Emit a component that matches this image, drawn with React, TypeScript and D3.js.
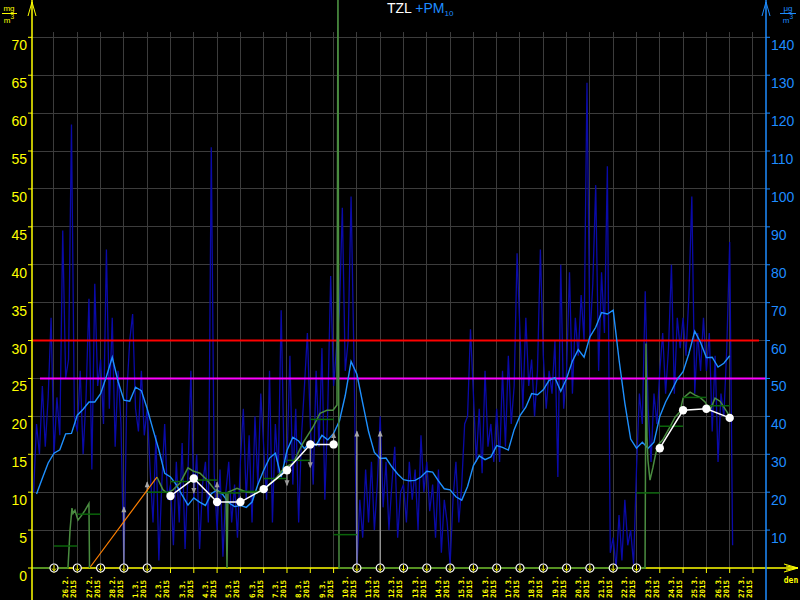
import * as d3 from 'd3';

// časová osa: hodiny od 25.2.2015 00:00 (UTC)
const T0 = Date.UTC(2015, 1, 25);
const hrs = (h: number) => new Date(T0 + h * 3600e3);
const parseDay = d3.utcParse('%Y-%m-%d');

const dayTicks = d3.utcDay.range(new Date(Date.UTC(2015, 1, 25)), new Date(Date.UTC(2015, 2, 28)));

// PM10 – 3hodinové hodnoty (µg/m3), od 24.2. 03:00
const pm10Raw = [
    20, 38, 30, 48, 32, 45, 66,
    30, 45, 35, 89, 50, 55, 117, 40,
    36, 52, 30, 45, 71, 26, 75, 48,
    55, 38, 84, 42, 66, 32, 52, 38,
    0, 46, 60, 67, 42, 36, 52, 35,
    42, 26, 12, 35, 2, 22, 38, 18,
    22, 6, 28, 12, 33, 5, 25, 52,
    18, 30, 5, 22, 28, 12, 111, 25,
    10, 26, 3, 20, 28, 12, 22, 8,
    28, 42, 18, 35, 12, 40, 22, 46,
    32, 18, 52, 12, 38, 25, 68, 28,
    28, 56, 22, 42, 12, 35, 48, 62,
    38, 22, 52, 32, 58, 18, 42, 77,
    48, 58, 68, 95, 52, 60, 98, 55,
    0, 18, 8, 26, 12, 28, 10, 22,
    40, 16, 28, 10, 22, 32, 8, 20,
    22, 12, 28, 18, 26, 10, 35, 20,
    28, 15, 22, 8, 26, 4, 18, 12,
    1, 18, 28, 12, 22, 38, 40, 63,
    46, 28, 42, 25, 52, 32, 38, 28,
    42, 28, 52, 32, 56, 38, 48, 83,
    62, 42, 66, 48, 55, 40, 52, 84,
    56, 42, 52, 46, 60, 24, 80, 42,
    52, 78, 46, 66, 56, 72, 60, 128,
    60, 75, 101, 52, 78, 62, 106, 4,
    8, 0, 14, 2, 18, 6, 10, 1,
    26, 46, 38, 73, 42, 28, 46, 38,
    52, 62, 46, 58, 80, 46, 66, 58,
    66, 56, 72, 98, 46, 62, 52, 66,
    52, 62, 36, 56, 28, 46, 40, 58,
    86, 6,
];
const pm10RawStart = -21;
const pm10RawStep = 3;

// PM10 – klouzavý průměr po 6 h (µg/m3), od 24.2. 06:00
const pm10Avg = [
    19.5, 23.7, 27.7, 30.3, 31.2, 35.4, 35.5, 40.3, 41.9, 43.8,
    43.8, 46, 50.5, 55.6, 49.2, 44.3, 44, 47.7, 46.8, 42,
    36.5, 31.2, 25, 24, 22, 19.2, 16.6, 18.5, 17.4, 16.5,
    19.6, 20.6, 19.3, 17.2, 16.2, 16.5, 16, 17.4, 22, 25.8,
    29, 30.3, 24, 31, 34.5, 33.5, 31.5, 33.4, 32.4, 35,
    33.8, 35.5, 38.8, 45.5, 54.5, 51.1, 43.5, 36, 30.5, 28.9,
    29, 26.7, 24.8, 23.3, 23, 23.1, 24, 25.5, 25.3, 23,
    20.9, 20.6, 18.8, 17.9, 21.5, 27, 29.6, 28.6, 29.3, 32.3,
    31.8, 31.1, 36.5, 40.2, 42.4, 46, 45.7, 47, 49.5, 50.2,
    46.6, 50, 54.6, 57.6, 55.6, 61, 63.5, 67.4, 67, 68,
    55, 43.5, 34, 31.6, 33.2, 31.6, 33.2, 40, 43.8, 46.7,
    49.8, 51.8, 56.6, 62.5, 59.5, 55.5, 55.6, 53, 54, 56,
];
const pm10AvgStart = -18;
const pm10AvgStep = 6;

// TZL – hodinové hodnoty (mg/m3): [hodina, hodnota], null = chybí
const tzlHourly: [number, number | null][] = [
    [-22.7, 0], [14.4, 0], [16.5, 5], [18.5, 7.9], [19.6, 7.2], [21.6, 7.6], [24.7, 6.3],
    [28.8, 7.0], [31.9, 7.6], [36, 8.5], [36.6, 0], [70, null],
    [106, 12.0], [112.3, 10.3], [116.4, 9.9], [122.6, 10.3], [129.8, 11.2], [138, 13.2],
    [143.2, 12.8], [150.4, 12.5], [157.6, 11.6], [165.8, 10.3], [173, 9.9], [177.2, 9.9],
    [178.2, 0], [179.2, 10], [188.5, 10.5], [198.8, 10], [209.1, 9.9], [219.4, 10.7],
    [229.7, 12], [237.9, 13.3], [246.2, 13.8], [256.5, 16.5], [266.8, 18.6], [274, 20.4],
    [281.2, 20.8], [287.4, 20.8], [291.5, 21.5], [292.5, 80], [293.6, 0], [608.8, 0],
    [609.8, 29.6], [610.8, 17.3], [611.8, 14.2], [613.9, 11.6], [617, 13.3], [619, 14.6],
    [622, 16.2], [627, 16.9], [634.5, 18.6], [639.7, 19.9], [644.8, 20.6], [648, 22.4],
    [655.2, 23.2], [660.3, 22.8], [665.4, 22.5], [670.6, 21.9], [675.7, 20.8], [680.9, 22.4],
    [686, 22], [693.2, 20.6], [696.3, 19.9],
];

// TZL – denní průměry (mg/m3)
const tzlDailyDays = [
    '2015-02-25', '2015-02-26', '2015-03-01', '2015-03-02', '2015-03-03', '2015-03-04',
    '2015-03-05', '2015-03-06', '2015-03-07', '2015-03-08', '2015-03-09',
    '2015-03-22', '2015-03-23', '2015-03-24', '2015-03-25',
];
const tzlDailyValues = [2.9, 7.1, 10.0, 11.4, 11.6, 9.9, 10.1, 11.8, 14.2, 19.6, 4.4, 9.9, 18.7, 22.5, 21.4];

// denní hodnoty (bílá čára)
const meanDays1 = ['2015-03-02', '2015-03-03', '2015-03-04', '2015-03-05', '2015-03-06', '2015-03-07', '2015-03-08', '2015-03-09'];
const meanValues1 = [9.5, 11.8, 8.7, 8.7, 10.4, 12.9, 16.3, 16.3];
const meanDays2 = ['2015-03-23', '2015-03-24', '2015-03-25', '2015-03-26'];
const meanValues2 = [15.8, 20.8, 21.0, 19.8];

// šedé značky k denním hodnotám
const markDays = ['2015-03-03', '2015-03-04', '2015-03-05', '2015-03-07', '2015-03-08', '2015-03-09'];
const markValues = [9.9, 11.3, 9.4, 10.9, 13.3, 17.8];

// šedé šipky od nuly
const arrowDays = ['2015-02-28', '2015-03-01', '2015-03-10', '2015-03-11'];
const arrowValues = [8.0, 11.3, 18, 18];

// dny bez dat
const missingDays = [
    '2015-02-25', '2015-02-26', '2015-02-27', '2015-02-28', '2015-03-01',
    '2015-03-10', '2015-03-11', '2015-03-12', '2015-03-13', '2015-03-14', '2015-03-15',
    '2015-03-16', '2015-03-17', '2015-03-18', '2015-03-19', '2015-03-20', '2015-03-21', '2015-03-22',
];

const limitHigh = 30;
const limitLow = 25;

const YELLOW = '#ffff00';
const BLUE = '#1e8cff';
const fmtDay = d3.utcFormat('%-d.%-m.');

export default function App() {
    const x = d3.scaleUtc().domain([hrs(-22.66), hrs(733.4)]).range([32, 766]);
    const yL = d3.scaleLinear().domain([0, 70]).range([568, 37.3]);
    const yR = d3.scaleLinear().domain([0, 140]).range([568, 37.3]);

    const rawLine = d3.line<number>()
        .x((_, i) => x(hrs(pm10RawStart + i * pm10RawStep)))
        .y((d) => yR(d))(pm10Raw) || '';
    const avgLine = d3.line<number>()
        .x((_, i) => x(hrs(pm10AvgStart + i * pm10AvgStep)))
        .y((d) => yR(d))(pm10Avg) || '';
    const tzlLine = d3.line<[number, number | null]>()
        .defined((d) => d[1] != null)
        .x((d) => x(hrs(d[0])))
        .y((d) => yL(d[1] as number))(tzlHourly) || '';

    // přemostění mezery v datech
    const bridges: [number, number, number, number][] = [];
    tzlHourly.forEach((d, i) => {
        if (d[1] == null && i > 0 && i < tzlHourly.length - 1) {
            const a = tzlHourly[i - 1], b = tzlHourly[i + 1];
            bridges.push([x(hrs(a[0])), yL(a[1] as number), x(hrs(b[0])), yL(b[1] as number)]);
        }
    });

    const meanLine = d3.line<[string, number]>()
        .x((d) => x(parseDay(d[0]) as Date))
        .y((d) => yL(d[1]));
    const mean1 = meanDays1.map((d, i) => [d, meanValues1[i]] as [string, number]);
    const mean2 = meanDays2.map((d, i) => [d, meanValues2[i]] as [string, number]);
    const meanAll = [...mean1, ...mean2];

    const leftTicks = d3.range(0, 75, 5);
    const rightTicks = d3.range(10, 150, 10);

    return (
        <svg width={800} height={600} style={{ position: 'fixed', left: 0, top: 0, background: '#000' }}
            fontFamily="'Liberation Sans', Arial, sans-serif">
            <defs>
                <clipPath id="axisStrip">
                    <rect x={32} y={566} width={734} height={4} />
                </clipPath>
            </defs>
            <rect width={800} height={600} fill="#000" />

            {/* mřížka */}
            <g stroke="#3c3c3c" strokeWidth={1} shapeRendering="crispEdges">
                {leftTicks.slice(1).map((v) => (
                    <line key={'h' + v} x1={32} x2={766} y1={yL(v)} y2={yL(v)} />
                ))}
                {dayTicks.map((d) => (
                    <line key={'v' + d.getTime()} x1={x(d)} x2={x(d)} y1={32} y2={568} />
                ))}
            </g>

            {/* PM10 */}
            <path d={rawLine} fill="none" stroke="#0a0aa8" strokeWidth={1.3} />

            {/* limity */}
            <line x1={32} x2={759} y1={yL(limitHigh)} y2={yL(limitHigh)} stroke="#ff0000" strokeWidth={2} />
            <line x1={40} x2={766} y1={yL(limitLow)} y2={yL(limitLow)} stroke="#ff00ff" strokeWidth={2} />

            <path d={avgLine} fill="none" stroke="#1e90ff" strokeWidth={1.4} />

            {/* šipky od nuly */}
            <g stroke="#a8a8a8" fill="#a8a8a8">
                {arrowDays.map((d, i) => {
                    const xx = x(parseDay(d) as Date);
                    const yy = yL(arrowValues[i]);
                    return (
                        <g key={d}>
                            <line x1={xx} x2={xx} y1={568} y2={yy} strokeWidth={1.2} />
                            <path d={`M${xx - 2.5},${yy + 5}L${xx},${yy - 1}L${xx + 2.5},${yy + 5}Z`} stroke="none" />
                        </g>
                    );
                })}
            </g>

            {/* TZL */}
            <path d={tzlLine} fill="none" stroke="#4a8c40" strokeWidth={1.5} />
            {bridges.map((b, i) => (
                <line key={'b' + i} x1={b[0]} y1={b[1]} x2={b[2]} y2={b[3]} stroke="#ff8000" strokeWidth={1.2} />
            ))}
            <g stroke="#0a640a" strokeWidth={1.5}>
                {tzlDailyDays.map((d, i) => {
                    const day = parseDay(d) as Date;
                    return (
                        <line key={d} x1={x(day)} x2={x(d3.utcDay.offset(day, 1))}
                            y1={yL(tzlDailyValues[i])} y2={yL(tzlDailyValues[i])} />
                    );
                })}
            </g>

            {/* šedé značky */}
            <g stroke="#999" fill="#999">
                {markDays.map((d, i) => {
                    const xx = x(parseDay(d) as Date);
                    const from = meanAll.find((m) => m[0] === d)?.[1] ?? 0;
                    const y0 = yL(from), y1 = yL(markValues[i]);
                    const dir = y1 < y0 ? -1 : 1;
                    return (
                        <g key={d}>
                            <line x1={xx} x2={xx} y1={y0} y2={y1} strokeWidth={1.2} />
                            <path d={`M${xx - 2.5},${y1 - dir * 5}L${xx},${y1 + dir}L${xx + 2.5},${y1 - dir * 5}Z`} stroke="none" />
                        </g>
                    );
                })}
            </g>

            {/* denní hodnoty */}
            <path d={meanLine(mean1) || ''} fill="none" stroke="#fff" strokeWidth={1.5} />
            <path d={meanLine(mean2) || ''} fill="none" stroke="#fff" strokeWidth={1.5} />
            {meanAll.map((m) => (
                <circle key={m[0]} cx={x(parseDay(m[0]) as Date)} cy={yL(m[1])} r={4.2} fill="#fff" />
            ))}

            {/* osa x */}
            <line x1={32} x2={798} y1={568} y2={568} stroke={YELLOW} strokeWidth={1.5} />
            <path d="M798,568L784,564M798,568L784,572M798,568L786,566M798,568L786,570" stroke={YELLOW} strokeWidth={1} fill="none" />
            {/* nulové úseky TZL přes osu */}
            <path d={tzlLine} fill="none" stroke="#2f7a2a" strokeWidth={1.5} clipPath="url(#axisStrip)" />
            <g stroke={YELLOW}>
                {dayTicks.map((d) => (
                    <line key={'t' + d.getTime()} x1={x(d)} x2={x(d)} y1={568} y2={573} />
                ))}
            </g>
            <g fill={YELLOW} fontFamily="'DejaVu Sans Mono', monospace" fontWeight="bold" fontSize={7.5}>
                {dayTicks.slice(1).map((d) => {
                    const xx = x(d);
                    return (
                        <g key={'l' + d.getTime()}>
                            <text transform={`translate(${xx - 9},598) rotate(-90)`}>{fmtDay(d)}</text>
                            <text transform={`translate(${xx - 1},598) rotate(-90)`}>{d.getUTCFullYear()}</text>
                        </g>
                    );
                })}
            </g>
            <text x={791} y={583} fill={YELLOW} fontSize={8} fontWeight="bold" textAnchor="middle"
                fontFamily="'DejaVu Sans Mono', monospace">den</text>

            {/* dny bez dat */}
            {missingDays.map((d) => {
                const xx = x(parseDay(d) as Date);
                return (
                    <g key={'m' + d} transform={`translate(${xx},568)`}>
                        <circle r={4} fill="#000" stroke="#fff" strokeWidth={1.2} />
                        <path d="M0,-3V2.5M-2,0.5L0,2.8L2,0.5" stroke={YELLOW} strokeWidth={1} fill="none" />
                    </g>
                );
            })}

            {/* levá osa */}
            <line x1={32} x2={32} y1={0} y2={600} stroke={YELLOW} strokeWidth={1.5} />
            <path d="M28,16L32,2L36,16" stroke={YELLOW} fill="none" strokeWidth={1} />
            <g fill={YELLOW} fontSize={14}>
                {leftTicks.map((v) => (
                    <g key={'yl' + v}>
                        <line x1={28} x2={32} y1={yL(v)} y2={yL(v)} stroke={YELLOW} />
                        <text x={27} y={yL(v) + 13} textAnchor="end">{v}</text>
                    </g>
                ))}
            </g>
            <g fill={YELLOW} fontSize={8} textAnchor="middle">
                <text x={9} y={11}>mg</text>
                <line x1={2} x2={17} y1={13.5} y2={13.5} stroke={YELLOW} />
                <text x={9} y={23}>m<tspan dy={-4} fontSize={6.5}>3</tspan></text>
            </g>

            {/* pravá osa */}
            <line x1={766} x2={766} y1={0} y2={600} stroke={BLUE} strokeWidth={1.5} />
            <path d="M762,16L766,2L770,16" stroke={BLUE} fill="none" strokeWidth={1} />
            <g fill={BLUE} fontSize={14}>
                {rightTicks.map((v) => (
                    <g key={'yr' + v}>
                        <line x1={766} x2={770} y1={yR(v)} y2={yR(v)} stroke={BLUE} />
                        <text x={771} y={yR(v) + 13}>{v}</text>
                    </g>
                ))}
            </g>
            <g fill={BLUE} fontSize={8} textAnchor="middle">
                <text x={788} y={11}>μg</text>
                <line x1={780} x2={796} y1={13.5} y2={13.5} stroke={BLUE} />
                <text x={788} y={23}>m<tspan dy={-4} fontSize={6.5}>3</tspan></text>
            </g>

            {/* titulek */}
            <text x={387} y={13} fontSize={14} fill="#fff">
                TZL <tspan fill={BLUE}>+PM</tspan><tspan fill={BLUE} fontSize={8} dy={3}>10</tspan>
            </text>
        </svg>
    );
}
